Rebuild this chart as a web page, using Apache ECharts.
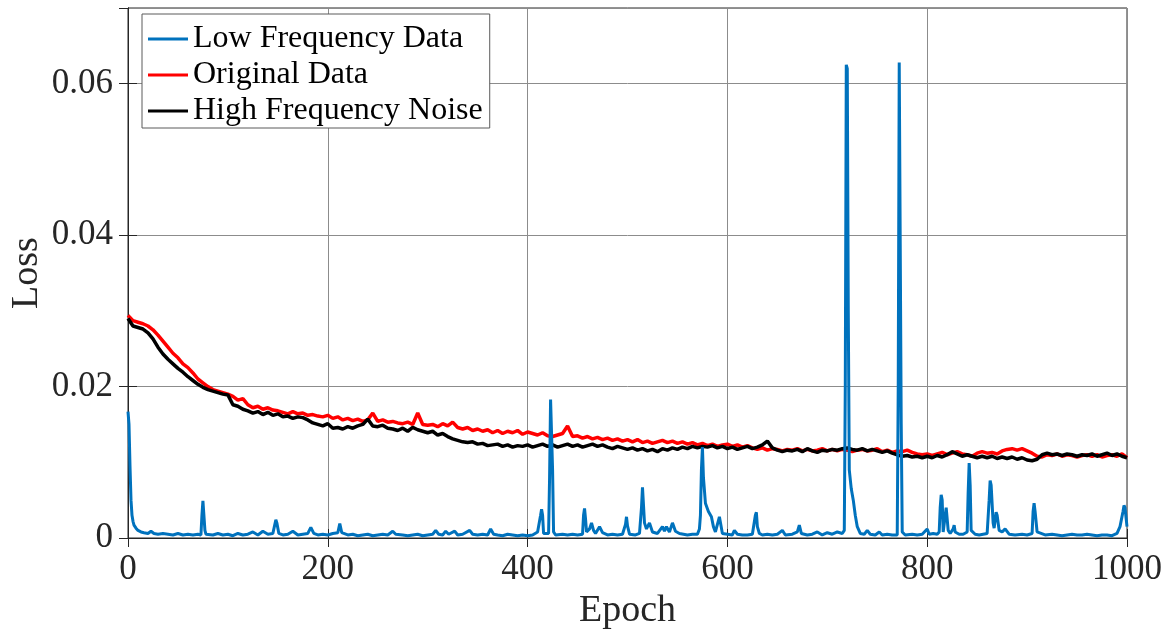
<!DOCTYPE html>
<html>
<head>
<meta charset="utf-8">
<script src="https://cdn.jsdelivr.net/npm/echarts@6/dist/echarts.min.js"></script>
<style>html,body{margin:0;padding:0;background:#fff;}#c{width:1172px;height:640px;}</style>
</head>
<body>
<div id="c"></div>
<script>
// Epochs for red/black sampled every 5 epochs
var epochStep = 5;
var originalData = [
0.0294,0.0287,0.0285,0.0283,0.0280,0.0275,0.0268,0.0260,0.0252,0.0244,
0.0238,0.0230,0.0225,0.0218,0.0210,0.0205,0.0200,0.0196,0.0194,0.0192,
0.0190,0.0187,0.0182,0.0184,0.0176,0.0172,0.0174,0.0170,0.0172,0.0169,
0.0168,0.0166,0.0164,0.0167,0.0164,0.0165,0.0162,0.0163,0.0161,0.0160,
0.0162,0.0158,0.0160,0.0156,0.0158,0.0155,0.0157,0.0154,0.0156,0.0165,
0.0154,0.0156,0.0153,0.0154,0.0152,0.0151,0.0153,0.0150,0.0165,0.0150,
0.0149,0.0150,0.0147,0.0151,0.0148,0.0153,0.0146,0.0144,0.0146,0.0142,
0.0144,0.0141,0.0143,0.0139,0.0142,0.0138,0.0141,0.0139,0.0142,0.0137,
0.0140,0.0138,0.0136,0.0139,0.0135,0.0134,0.0136,0.0138,0.0148,0.0134,
0.0135,0.0132,0.0134,0.0131,0.0133,0.0130,0.0132,0.0129,0.0131,0.0128,
0.0130,0.0127,0.0130,0.0126,0.0128,0.0125,0.0127,0.0129,0.0126,0.0128,
0.0125,0.0127,0.0124,0.0126,0.0123,0.0125,0.0122,0.0124,0.0121,0.0123,
0.0124,0.0121,0.0123,0.0120,0.0122,0.0119,0.0117,0.0119,0.0116,0.0118,
0.0117,0.0115,0.0117,0.0116,0.0118,0.0115,0.0117,0.0115,0.0116,0.0118,
0.0115,0.0117,0.0115,0.0117,0.0116,0.0114,0.0116,0.0117,0.0115,0.0116,
0.0118,0.0114,0.0116,0.0113,0.0115,0.0114,0.0116,0.0113,0.0111,0.0110,
0.0111,0.0109,0.0111,0.0113,0.0110,0.0112,0.0114,0.0111,0.0110,0.0108,
0.0112,0.0114,0.0112,0.0113,0.0111,0.0115,0.0117,0.0118,0.0116,0.0118,
0.0115,0.0112,0.0108,0.0107,0.0110,0.0109,0.0111,0.0108,0.0110,0.0109,
0.0107,0.0109,0.0110,0.0108,0.0110,0.0107,0.0109,0.0110,0.0108,0.0111,
0.0106];
var highFreqNoise = [
0.0290,0.0280,0.0278,0.0276,0.0271,0.0263,0.0252,0.0243,0.0236,0.0230,
0.0224,0.0219,0.0213,0.0208,0.0203,0.0199,0.0196,0.0194,0.0192,0.0190,
0.0189,0.0176,0.0174,0.0170,0.0168,0.0165,0.0167,0.0163,0.0166,0.0162,
0.0164,0.0160,0.0161,0.0158,0.0160,0.0159,0.0156,0.0152,0.0150,0.0148,
0.0151,0.0145,0.0146,0.0144,0.0147,0.0145,0.0148,0.0150,0.0157,0.0148,
0.0147,0.0149,0.0145,0.0144,0.0142,0.0145,0.0141,0.0146,0.0143,0.0141,
0.0139,0.0141,0.0136,0.0138,0.0134,0.0131,0.0129,0.0127,0.0126,0.0127,
0.0124,0.0125,0.0122,0.0123,0.0124,0.0121,0.0123,0.0120,0.0122,0.0121,
0.0123,0.0120,0.0122,0.0124,0.0121,0.0123,0.0120,0.0122,0.0124,0.0121,
0.0123,0.0120,0.0122,0.0124,0.0121,0.0123,0.0120,0.0118,0.0121,0.0119,
0.0117,0.0119,0.0116,0.0118,0.0115,0.0117,0.0114,0.0118,0.0116,0.0119,
0.0117,0.0120,0.0118,0.0121,0.0119,0.0121,0.0120,0.0122,0.0119,0.0121,
0.0118,0.0120,0.0117,0.0119,0.0121,0.0118,0.0120,0.0123,0.0128,0.0119,
0.0116,0.0114,0.0116,0.0115,0.0117,0.0114,0.0118,0.0115,0.0113,0.0116,
0.0115,0.0117,0.0116,0.0118,0.0119,0.0117,0.0116,0.0118,0.0115,0.0117,
0.0115,0.0113,0.0115,0.0112,0.0110,0.0108,0.0109,0.0107,0.0108,0.0106,
0.0108,0.0106,0.0109,0.0107,0.0110,0.0114,0.0111,0.0108,0.0110,0.0108,
0.0106,0.0108,0.0106,0.0108,0.0105,0.0107,0.0105,0.0107,0.0104,0.0106,
0.0103,0.0102,0.0104,0.0110,0.0112,0.0110,0.0111,0.0109,0.0111,0.0110,
0.0108,0.0110,0.0109,0.0111,0.0108,0.0110,0.0112,0.0109,0.0111,0.0108,
0.0106];
// Low frequency data as [epoch, loss] pairs
var lowFreqData = [
[0,0.0167],[1,0.0150],[2,0.0095],[3,0.0050],[4,0.0030],[5,0.0022],[6,0.0017],[8,0.0013],[10,0.0010],[13,0.0008],[16,0.0007],[20,0.0006],[23,0.0009],[26,0.0006],[30,0.0005],[35,0.0006],[40,0.0005],[45,0.0004],[50,0.0006],[55,0.0004],[60,0.0005],[65,0.0004],[70,0.0005],[73,0.0004],[74,0.0030],[75,0.0049],[76,0.0048],[77,0.0010],[78,0.0005],[85,0.0004],[90,0.0006],[95,0.0004],[100,0.0005],[105,0.0003],[110,0.0006],[115,0.0004],[120,0.0005],[125,0.0008],[130,0.0004],[135,0.0009],[140,0.0005],[145,0.0006],[147,0.0018],[148,0.0024],[149,0.0020],[151,0.0006],[155,0.0004],[160,0.0005],[165,0.0009],[170,0.0004],[175,0.0005],[180,0.0006],[183,0.0014],[186,0.0006],[190,0.0004],[195,0.0005],[200,0.0004],[205,0.0006],[210,0.0007],[212,0.0019],[214,0.0007],[220,0.0004],[225,0.0005],[230,0.0003],[235,0.0004],[240,0.0005],[245,0.0003],[250,0.0004],[255,0.0005],[260,0.0004],[265,0.0009],[268,0.0005],[275,0.0004],[280,0.0003],[285,0.0004],[290,0.0005],[295,0.0003],[300,0.0004],[305,0.0005],[308,0.0010],[311,0.0005],[315,0.0004],[318,0.0009],[321,0.0005],[327,0.0009],[330,0.0004],[335,0.0005],[342,0.0010],[345,0.0005],[350,0.0004],[355,0.0005],[360,0.0004],[363,0.0012],[366,0.0005],[370,0.0004],[375,0.0003],[380,0.0005],[385,0.0004],[390,0.0003],[395,0.0004],[400,0.0003],[405,0.0004],[410,0.0008],[412,0.0006],[413,0.0030],[414,0.0038],[415,0.0030],[416,0.0006],[418,0.0005],[421,0.0006],[422,0.0080],[423,0.0183],[424,0.0184],[425,0.0090],[426,0.0008],[428,0.0004],[435,0.0005],[440,0.0004],[445,0.0005],[450,0.0004],[455,0.0005],[456,0.0030],[457,0.0039],[458,0.0025],[459,0.0008],[462,0.0012],[464,0.0020],[466,0.0010],[468,0.0006],[472,0.0015],[475,0.0007],[480,0.0004],[485,0.0005],[490,0.0004],[495,0.0005],[498,0.0018],[499,0.0028],[500,0.0016],[502,0.0005],[508,0.0004],[512,0.0006],[514,0.0040],[515,0.0067],[516,0.0066],[517,0.0020],[519,0.0012],[522,0.0020],[525,0.0008],[530,0.0006],[535,0.0015],[537,0.0009],[539,0.0015],[542,0.0008],[545,0.0020],[548,0.0009],[552,0.0006],[556,0.0005],[560,0.0004],[565,0.0005],[570,0.0005],[572,0.0012],[573,0.0030],[574,0.0090],[575,0.0120],[576,0.0080],[578,0.0046],[581,0.0035],[584,0.0028],[586,0.0015],[588,0.0008],[590,0.0006],[592,0.0028],[593,0.0026],[595,0.0006],[600,0.0005],[605,0.0004],[607,0.0010],[610,0.0005],[615,0.0004],[620,0.0004],[625,0.0005],[628,0.0030],[629,0.0034],[630,0.0015],[632,0.0006],[635,0.0004],[640,0.0005],[645,0.0004],[650,0.0005],[655,0.0010],[658,0.0004],[665,0.0005],[670,0.0008],[672,0.0017],[674,0.0006],[680,0.0004],[685,0.0005],[690,0.0008],[695,0.0004],[700,0.0007],[705,0.0005],[710,0.0008],[715,0.0006],[717,0.0010],[718,0.0200],[719,0.0625],[720,0.0620],[721,0.0300],[722,0.0090],[724,0.0065],[726,0.0050],[728,0.0030],[730,0.0015],[733,0.0006],[737,0.0005],[740,0.0010],[743,0.0005],[748,0.0004],[752,0.0008],[755,0.0004],[760,0.0005],[765,0.0004],[770,0.0004],[771,0.0200],[772,0.0628],[773,0.0628],[774,0.0150],[775,0.0008],[778,0.0004],[785,0.0005],[790,0.0004],[795,0.0005],[800,0.0012],[802,0.0005],[806,0.0006],[810,0.0005],[812,0.0008],[813,0.0040],[814,0.0057],[815,0.0050],[816,0.0008],[818,0.0010],[819,0.0040],[820,0.0038],[821,0.0010],[823,0.0006],[826,0.0012],[827,0.0017],[828,0.0008],[832,0.0005],[836,0.0005],[840,0.0008],[841,0.0060],[842,0.0099],[843,0.0070],[844,0.0010],[848,0.0005],[852,0.0004],[856,0.0005],[860,0.0006],[862,0.0050],[863,0.0076],[864,0.0070],[866,0.0020],[867,0.0013],[869,0.0034],[870,0.0030],[872,0.0010],[875,0.0008],[878,0.0012],[880,0.0010],[882,0.0005],[888,0.0004],[895,0.0005],[900,0.0004],[905,0.0006],[906,0.0035],[907,0.0046],[908,0.0035],[910,0.0008],[914,0.0006],[918,0.0004],[925,0.0005],[930,0.0004],[935,0.0003],[940,0.0004],[945,0.0005],[950,0.0004],[955,0.0004],[960,0.0005],[965,0.0004],[970,0.0003],[975,0.0004],[980,0.0004],[985,0.0003],[990,0.0006],[993,0.0015],[995,0.0014],[996,0.0035],[997,0.0043],[998,0.0040],[1000,0.0015]
];
var seriesNames = ['Low Frequency Data','Original Data','High Frequency Noise'];
var xTicks = [0,200,400,600,800,1000];
var yTicks = [0,0.02,0.04,0.06];

function withEpochs(arr){ return arr.map(function(v,i){ return [i*epochStep, v]; }); }

var font = 'Liberation Serif, Times New Roman, serif';
var txt = '#262626';
var tickStyle = {show:true,inside:true,length:9,lineStyle:{color:'#262626'}};
var chart = echarts.init(document.getElementById('c'), null, {renderer:'canvas'});
chart.setOption({
  animation:false,
  backgroundColor:'#fff',
  grid:{left:128,right:45,top:8,bottom:102,containLabel:false,outerBoundsMode:'none',
        show:true,borderColor:'#262626',borderWidth:1,backgroundColor:'transparent'},
  legend:{
    data:seriesNames, orient:'vertical', left:142, top:14,
    icon:'rect', itemWidth:40, itemHeight:3, itemGap:4,
    padding:[9,7,1,6], backgroundColor:'#fff', borderColor:'#5a5a5a', borderWidth:1,
    textStyle:{fontFamily:font,fontSize:32,color:'#000',lineHeight:32},
    selectedMode:false
  },
  xAxis:[{
    type:'value', min:0, max:1000, interval:200,
    name:'Epoch', nameLocation:'middle', nameGap:54, nameMoveOverlap:false,
    nameTextStyle:{fontFamily:font,fontSize:38,color:txt},
    axisLine:{show:true,lineStyle:{color:'#262626',width:1}},
    axisTick:tickStyle,
    axisLabel:{fontFamily:font,fontSize:35,color:txt,margin:14,
      formatter:function(v){return xTicks.indexOf(v)>=0?String(v):'';}},
    splitLine:{show:true,lineStyle:{color:'#8c8c8c',width:1}}
  },{
    type:'value', min:0, max:1000, interval:200, position:'top',
    axisLine:{show:true,lineStyle:{color:'#262626',width:1}},
    axisTick:tickStyle, axisLabel:{show:false}, splitLine:{show:false}
  }],
  yAxis:[{
    type:'value', min:0, max:0.07, interval:0.02,
    name:'Loss', nameLocation:'middle', nameGap:82, nameMoveOverlap:false,
    nameTextStyle:{fontFamily:font,fontSize:38,color:txt},
    axisLine:{show:true,lineStyle:{color:'#262626',width:1}},
    axisTick:tickStyle,
    axisLabel:{fontFamily:font,fontSize:35,color:txt,margin:15,showMaxLabel:false,
      formatter:function(v){
        for(var i=0;i<yTicks.length;i++){ if(Math.abs(v-yTicks[i])<1e-9) return yTicks[i]===0?'0':yTicks[i].toFixed(2); }
        return '';
      }},
    splitLine:{show:true,lineStyle:{color:'#8c8c8c',width:1}}
  },{
    type:'value', min:0, max:0.07, interval:0.02, position:'right',
    axisLine:{show:true,lineStyle:{color:'#262626',width:1}},
    axisTick:tickStyle, axisLabel:{show:false}, splitLine:{show:false}
  }],
  series:[
    {name:seriesNames[1],type:'line',data:withEpochs(originalData),showSymbol:false,symbol:'none',
     lineStyle:{color:'#ff0000',width:3.5},itemStyle:{color:'#ff0000'},z:2},
    {name:seriesNames[2],type:'line',data:withEpochs(highFreqNoise),showSymbol:false,symbol:'none',
     lineStyle:{color:'#000000',width:3.5},itemStyle:{color:'#000000'},z:3},
    {name:seriesNames[0],type:'line',data:lowFreqData,showSymbol:false,symbol:'none',
     lineStyle:{color:'#0072bd',width:3},itemStyle:{color:'#0072bd'},z:4}
  ]
});
</script>
</body>
</html>
